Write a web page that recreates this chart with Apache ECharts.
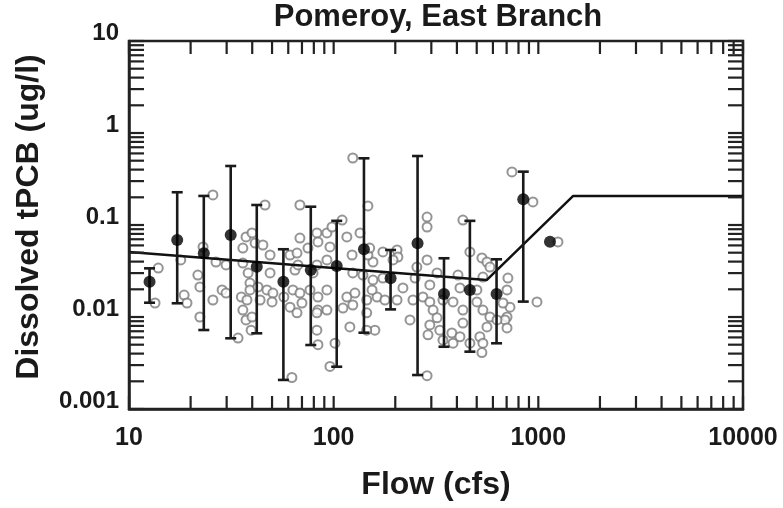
<!DOCTYPE html>
<html>
<head>
<meta charset="utf-8">
<script src="https://cdn.jsdelivr.net/npm/echarts@6/dist/echarts.min.js"></script>
<style>
html,body{margin:0;padding:0;background:#fff;}
#c{width:783px;height:508px;}
</style>
</head>
<body>
<div id="c"></div>
<script>
// ---- data ----
const titleText = 'Pomeroy, East Branch';
const xName = 'Flow (cfs)';
const yName = 'Dissolved tPCB (ug/l)';
const xTickLabels = [10, 100, 1000, 10000];
const yTickLabels = [0.001, 0.01, 0.1, 1, 10];
const minorMultipliers = [1, 2, 3, 4, 5, 6, 7, 8, 9];

// individual samples [flow, concentration]
const observations = [
  [13.9,0.034],[13.4,0.0142],[17.9,0.0417],[18.6,0.0173],[19.2,0.0142],
  [25.7,0.212],[23.0,0.0577],[21.7,0.0286],[22.2,0.0212],[22.2,0.0100],[25.7,0.0153],[26.6,0.0396],[28.5,0.0197],[29.8,0.0368],[29.8,0.0182],
  [34.1,0.0059],[36.0,0.0562],[37.3,0.0741],[35.4,0.0165],[36.0,0.0119],[37.3,0.0093],[39.0,0.0234],[39.5,0.0072],[38.2,0.0301],[39.9,0.0819],[41.3,0.0637],[45.1,0.0606],[48.9,0.0472],[36.0,0.0386],[39.0,0.0197],[42.7,0.0212],[47.2,0.0197],[50.5,0.0182],[37.7,0.0153],[43.7,0.0153],[50.0,0.0146],[48.9,0.0301],[39.9,0.0100],[46.2,0.165],
  [68.4,0.165],[61.2,0.0472],[66.2,0.0496],[68.4,0.0722],[74.9,0.0562],[82.8,0.0819],[83.8,0.0654],[92.7,0.0819],[98.1,0.0951],[95.9,0.0577],[92.7,0.0417],[64.7,0.0324],[66.9,0.0368],[79.3,0.0301],[82.8,0.0368],[57.1,0.0165],[63.2,0.0197],[68.4,0.0182],[76.6,0.0197],[83.8,0.0165],[92.7,0.0197],[61.2,0.0128],[70.0,0.0142],[83.8,0.0119],[92.7,0.0119],[66.2,0.0111],[82.8,0.0111],[82.8,0.0072],[101.5,0.0052],[83.8,0.0050],[95.9,0.0029],[62.5,0.0022],[110,0.113],
  [124,0.535],[147,0.161],[116,0.0741],[123,0.0472],[134.5,0.0819],[155.6,0.0396],[147,0.0472],[204,0.0535],[206,0.0449],[195,0.0417],[174,0.0509],[124,0.0301],[139,0.0286],[155.6,0.0252],[174,0.0265],[116,0.0165],[127,0.0182],[145,0.0153],[163,0.0165],[178,0.0153],[204,0.0153],[124,0.0135],[111,0.0125],[145,0.0111],[154,0.0197],[120,0.0078],[159,0.0072],[145,0.0072],[150,0.0562],
  [286,0.122],[286,0.0951],[255,0.0349],[286,0.0417],[320,0.0301],[218,0.0207],[250,0.0265],[295,0.0223],[244,0.0153],[273,0.0165],[295,0.0146],[342,0.0153],[306,0.0119],[236,0.0093],[295,0.0082],[320,0.0098],[289,0.0064],[330,0.0072],[342,0.0056],[286,0.0023],
  [428,0.113],[463,0.0509],[530,0.0438],[561,0.0396],[580,0.0349],[405,0.0286],[536,0.0272],[414,0.0207],[501,0.0197],[383,0.0146],[428,0.0119],[501,0.0146],[536,0.0119],[580,0.0100],[378,0.0067],[428,0.0086],[414,0.0061],[463,0.0052],[518,0.0061],[561,0.0078],[536,0.0052],[530,0.0041],[383,0.0052],
  [710,0.0265],[703,0.0197],[727,0.0128],[672,0.0142],[703,0.0100],[687,0.0093],[703,0.0076],[628,0.0093],[743,0.377],[941,0.178],[985,0.0146],[1247,0.0654]
];

// binned means with ranges
const binFlow = [12.6, 17.2, 23.2, 31.4, 42.1, 56.8, 77.3, 103.5, 140.6, 189.7, 257, 346, 463, 625, 844, 1140];
const binMean = [0.0242, 0.0687, 0.0493, 0.0779, 0.0352, 0.0242, 0.0324, 0.0358, 0.0545, 0.0263, 0.0632, 0.0178, 0.0197, 0.0178, 0.19, 0.0658];
const binLow  = [0.0143, 0.0141, 0.00722, 0.00587, 0.00665, 0.00207, 0.00496, 0.00288, 0.00675, 0.0121, 0.00234, 0.00475, 0.0042, 0.00518, 0.0147, null];
const binHigh = [0.0338, 0.227, 0.207, 0.438, 0.165, 0.0545, 0.158, 0.111, 0.531, 0.0535, 0.562, 0.0435, 0.111, 0.0424, 0.38, null];

// fitted model
const fitFlow = [10, 559, 1476, 10000];
const fitConc = [0.051, 0.0252, 0.206, 0.206];

// ---- build ----
const FONT = 'Liberation Sans, Arial, Helvetica, sans-serif';
const INK = '#1a1a1a';
const chart = echarts.init(document.getElementById('c'), null, {renderer: 'canvas'});

const X0 = xTickLabels[0], X1 = xTickLabels[xTickLabels.length - 1];
const Y0 = yTickLabels[0], Y1 = yTickLabels[yTickLabels.length - 1];

const meanData = binFlow.map((f, i) => [f, binMean[i]]);
const barData = [];
binFlow.forEach((f, i) => { if (binLow[i] != null) barData.push([f, binLow[i], binHigh[i]]); });
const fitData = fitFlow.map((f, i) => [f, fitConc[i]]);

const xMinor = [];
for (let d = 0; d < xTickLabels.length - 1; d++) minorMultipliers.forEach(m => xMinor.push([xTickLabels[d] * m, 1]));
xMinor.push([X1, 1]);
const yMinor = [];
for (let d = 0; d < yTickLabels.length - 1; d++) minorMultipliers.forEach(m => yMinor.push([100, yTickLabels[d] * m]));
yMinor.push([100, Y1]);

function fmt(v) { return String(+(+v).toPrecision(6)); }

const tickStyle = {stroke: '#222', lineWidth: 2.2};

const option = {
  backgroundColor: '#fff',
  animation: false,
  title: {
    text: titleText, left: 433, top: -3, textAlign: 'center',
    textStyle: {fontFamily: FONT, fontWeight: 'bold', fontSize: 31, color: INK}
  },
  grid: {left: 129, right: 40, top: 41, bottom: 99, show: true, borderColor: '#222', borderWidth: 2.5, backgroundColor: 'transparent'},
  xAxis: {
    type: 'log', logBase: 10, min: X0, max: X1,
    name: xName, nameLocation: 'middle', nameGap: 60,
    nameTextStyle: {fontFamily: FONT, fontWeight: 'bold', fontSize: 32, color: INK},
    axisLine: {show: true, lineStyle: {color: '#222', width: 2.5}},
    axisTick: {show: false},
    splitLine: {show: false},
    axisLabel: {formatter: fmt, fontFamily: FONT, fontWeight: 'bold', fontSize: 25, color: INK, margin: 17}
  },
  yAxis: {
    type: 'log', logBase: 10, min: Y0, max: Y1,
    name: yName, nameLocation: 'middle', nameGap: 84, nameRotate: 90,
    nameTextStyle: {fontFamily: FONT, fontWeight: 'bold', fontSize: 32, color: INK, padding: [0, 0, 0, 16]},
    axisLine: {show: true, lineStyle: {color: '#222', width: 2.5}},
    axisTick: {show: false},
    splitLine: {show: false},
    axisLabel: {formatter: fmt, fontFamily: FONT, fontWeight: 'bold', fontSize: 24, color: INK, margin: 10, verticalAlign: 'bottom', lineHeight: 16}
  },
  series: [
    {
      type: 'custom', name: 'xticks', z: 6, silent: true, clip: false,
      data: xMinor,
      encode: {x: 0, y: 1},
      renderItem: function (params, api) {
        const px = api.coord([api.value(0), 1])[0];
        const yb = api.coord([X0, Y0])[1];
        const yt = api.coord([X0, Y1])[1];
        const len = 13;
        return {type: 'group', children: [
          {type: 'line', shape: {x1: px, y1: yb, x2: px, y2: yb - len}, style: tickStyle},
          {type: 'line', shape: {x1: px, y1: yt, x2: px, y2: yt + len}, style: tickStyle}
        ]};
      }
    },
    {
      type: 'custom', name: 'yticks', z: 6, silent: true, clip: false,
      data: yMinor,
      encode: {x: 0, y: 1},
      renderItem: function (params, api) {
        const py = api.coord([100, api.value(1)])[1];
        const xl = api.coord([X0, Y0])[0];
        const xr = api.coord([X1, Y0])[0];
        const len = 15;
        return {type: 'group', children: [
          {type: 'line', shape: {x1: xl, y1: py, x2: xl + len, y2: py}, style: tickStyle},
          {type: 'line', shape: {x1: xr, y1: py, x2: xr - len, y2: py}, style: tickStyle}
        ]};
      }
    },
    {
      type: 'scatter', name: 'samples', z: 2,
      data: observations,
      symbol: 'circle', symbolSize: 9,
      itemStyle: {color: '#fff', borderColor: '#7a7a7a', borderWidth: 2}
    },
    {
      type: 'line', name: 'fit', z: 3,
      data: fitData, showSymbol: false, symbol: 'none',
      lineStyle: {color: '#111', width: 2.5}
    },
    {
      type: 'custom', name: 'range', z: 4,
      data: barData,
      encode: {x: 0, y: [1, 2]},
      renderItem: function (params, api) {
        const f = api.value(0);
        const lo = api.coord([f, api.value(1)]);
        const hi = api.coord([f, api.value(2)]);
        const hw = 5.5;
        const st = {stroke: '#1a1a1a', lineWidth: 2.6};
        return {type: 'group', children: [
          {type: 'line', shape: {x1: lo[0], y1: lo[1], x2: hi[0], y2: hi[1]}, style: st},
          {type: 'line', shape: {x1: lo[0] - hw, y1: lo[1], x2: lo[0] + hw, y2: lo[1]}, style: st},
          {type: 'line', shape: {x1: hi[0] - hw, y1: hi[1], x2: hi[0] + hw, y2: hi[1]}, style: st}
        ]};
      }
    },
    {
      type: 'scatter', name: 'means', z: 5,
      data: meanData, symbol: 'circle', symbolSize: 12,
      itemStyle: {color: '#000'}
    }
  ]
};
chart.setOption(option);
</script>
</body>
</html>
